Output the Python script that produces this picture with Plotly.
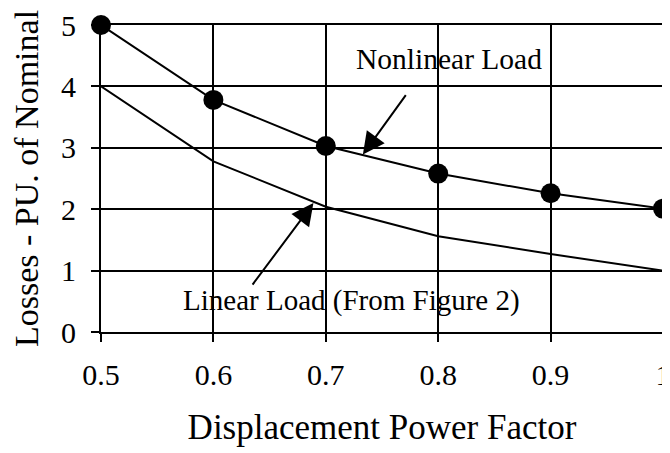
import plotly.graph_objects as go

pf = [0.5, 0.6, 0.7, 0.8, 0.9, 1.0]
nonlinear_load = [5.0, 3.78, 3.03, 2.58, 2.26, 2.01]
linear_load = [4.0, 2.78, 2.04, 1.56, 1.27, 1.0]
x_ticks = [0.5, 0.6, 0.7, 0.8, 0.9, 1.0]
x_tick_text = ["0.5", "0.6", "0.7", "0.8", "0.9", "1"]
y_ticks = [0, 1, 2, 3, 4, 5]

serif = "Liberation Serif, Times New Roman, serif"

fig = go.Figure()

fig.add_trace(go.Scatter(
    x=pf, y=linear_load, mode="lines",
    line=dict(color="black", width=2),
    cliponaxis=False, showlegend=False,
))
fig.add_trace(go.Scatter(
    x=pf, y=nonlinear_load, mode="lines+markers",
    line=dict(color="black", width=2),
    marker=dict(color="black", size=20),
    cliponaxis=False, showlegend=False,
))

# arrows pointing at the two curves
fig.add_annotation(
    x=0.733, y=2.89, xref="x", yref="y",
    ax=44, ay=-61, text="",
    showarrow=True, arrowhead=2, arrowsize=2.2, arrowwidth=2,
    arrowcolor="black", standoff=0,
)
fig.add_annotation(
    x=0.689, y=2.1, xref="x", yref="y",
    ax=-62, ay=83, text="",
    showarrow=True, arrowhead=2, arrowsize=2.2, arrowwidth=2,
    arrowcolor="black", standoff=0,
)
fig.add_annotation(
    x=0.81, y=4.45, xref="x", yref="y",
    text="Nonlinear Load", showarrow=False,
    font=dict(family=serif, size=29.5, color="black"),
)
fig.add_annotation(
    x=0.723, y=0.52, xref="x", yref="y",
    text="Linear Load (From Figure 2)", showarrow=False,
    font=dict(family=serif, size=29, color="black"),
)

fig.update_xaxes(
    range=[0.5, 1.0], tickvals=x_ticks, ticktext=x_tick_text,
    showgrid=True, gridcolor="black", gridwidth=2,
    showline=True, linecolor="black", linewidth=2, mirror=True,
    ticks="outside", ticklen=8, tickwidth=2, tickcolor="black",
    ticklabelstandoff=7, ticklabeloverflow="allow",
    tickfont=dict(family=serif, size=30, color="black"),
    title=dict(text="Displacement Power Factor", standoff=24,
               font=dict(family=serif, size=35, color="black")),
    zeroline=False, automargin=False,
)
fig.update_yaxes(
    range=[0, 5], tickvals=y_ticks,
    showgrid=True, gridcolor="black", gridwidth=2,
    showline=True, linecolor="black", linewidth=2, mirror=True,
    ticks="outside", ticklen=8, tickwidth=2, tickcolor="black",
    ticklabelstandoff=9, ticklabeloverflow="allow",
    tickfont=dict(family=serif, size=30, color="black"),
    title=dict(text="Losses - PU. of Nominal", standoff=16,
               font=dict(family=serif, size=34, color="black")),
    zeroline=False, automargin=False,
)

# the page body adds an 8px offset, so the figure is 8px smaller
fig.update_layout(
    width=662, height=445,
    margin=dict(l=93, r=7, t=17, b=121),
    plot_bgcolor="white", paper_bgcolor="white",
)

fig.write_html("out.html")
